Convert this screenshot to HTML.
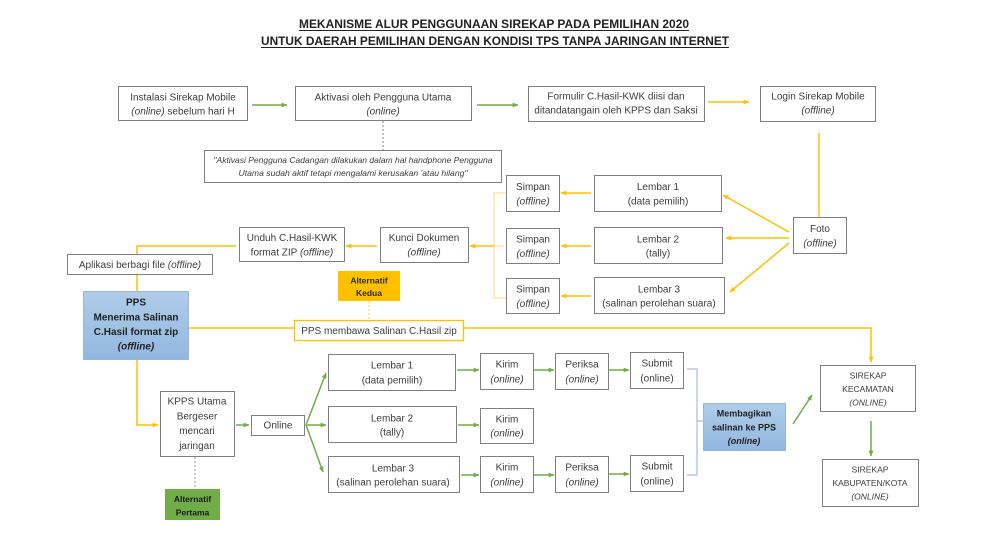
<!DOCTYPE html>
<html>
<head>
<meta charset="utf-8">
<style>
  html,body{margin:0;padding:0;background:#fff;}
  svg{display:block;}
  text{font-family:"Liberation Sans",sans-serif;fill:#3d3d3d;font-size:10px;}
  .it{font-style:italic;}
  .b{font-weight:bold;}
  .box{fill:#fff;stroke:#7f7f7f;stroke-width:1;}
  .gl{stroke:#70ad47;stroke-width:1.5;fill:none;}
  .yl{stroke:#ffc000;stroke-width:1.5;fill:none;}
</style>
</head>
<body>
<svg width="1000" height="540" viewBox="0 0 1000 540" xmlns="http://www.w3.org/2000/svg">
  <defs>
    <marker id="ay" viewBox="0 0 10 10" refX="9" refY="5" markerWidth="6" markerHeight="6" markerUnits="userSpaceOnUse" orient="auto">
      <path d="M0,1 L10,5 L0,9 z" fill="#ffc000"/>
    </marker>
    <marker id="ag" viewBox="0 0 10 10" refX="9" refY="5" markerWidth="6" markerHeight="6" markerUnits="userSpaceOnUse" orient="auto">
      <path d="M0,1 L10,5 L0,9 z" fill="#70ad47"/>
    </marker>
    <linearGradient id="blue" x1="0" y1="0" x2="0" y2="1">
      <stop offset="0" stop-color="#b0cdea"/>
      <stop offset="1" stop-color="#92b7df"/>
    </linearGradient>
  </defs>

  <!-- Title -->
  <text x="494" y="28" text-anchor="middle" class="b" style="font-size:11.5px;fill:#222" textLength="390" lengthAdjust="spacingAndGlyphs">MEKANISME ALUR PENGGUNAAN SIREKAP PADA PEMILIHAN 2020</text>
  <line x1="299" y1="30.5" x2="689" y2="30.5" stroke="#222" stroke-width="1"/>
  <text x="495" y="45" text-anchor="middle" class="b" style="font-size:11.5px;fill:#222" textLength="468" lengthAdjust="spacingAndGlyphs">UNTUK DAERAH PEMILIHAN DENGAN KONDISI TPS TANPA JARINGAN INTERNET</text>
  <line x1="261" y1="47.5" x2="729" y2="47.5" stroke="#222" stroke-width="1"/>

  <!-- ===== Connectors ===== -->
  <!-- row 1 -->
  <line class="gl" x1="252" y1="105" x2="287" y2="105" marker-end="url(#ag)"/>
  <line class="gl" x1="477" y1="105" x2="518" y2="105" marker-end="url(#ag)"/>
  <line class="yl" x1="708" y1="102" x2="749" y2="102" marker-end="url(#ay)"/>
  <line class="yl" x1="819" y1="133" x2="819" y2="229" marker-end="url(#ay)"/>
  <!-- dotted from Aktivasi to note -->
  <line x1="383" y1="121" x2="383" y2="150" stroke="#999" stroke-width="1.2" stroke-dasharray="2,2"/>

  <!-- Foto fan -->
  <line class="yl" x1="789" y1="232" x2="723" y2="195" marker-end="url(#ay)"/>
  <line class="yl" x1="789" y1="238" x2="726" y2="238" marker-end="url(#ay)"/>
  <line class="yl" x1="789" y1="243" x2="730" y2="292" marker-end="url(#ay)"/>

  <!-- Lembar -> Simpan -->
  <line class="yl" x1="591" y1="193" x2="561" y2="193" marker-end="url(#ay)"/>
  <line class="yl" x1="591" y1="246" x2="561" y2="246" marker-end="url(#ay)"/>
  <line class="yl" x1="591" y1="296" x2="561" y2="296" marker-end="url(#ay)"/>

  <!-- Simpan bracket -->
  <polyline points="506,193 494,193 494,298 506,298" fill="none" stroke="#ffe08a" stroke-width="1.2"/>
  <line x1="494" y1="246" x2="504" y2="246" stroke="#ffe08a" stroke-width="1.2"/>
  <line class="yl" x1="494" y1="246" x2="470" y2="246" marker-end="url(#ay)"/>

  <!-- Kunci -> Unduh -->
  <line class="yl" x1="377" y1="246" x2="346" y2="246" marker-end="url(#ay)"/>
  <!-- Unduh -> Aplikasi -> PPS -->
  <polyline class="yl" points="236,246 137,246 137,254"/>
  <line class="yl" x1="137" y1="274" x2="137" y2="291"/>
  <polyline class="yl" points="137,359 137,425 158,425" marker-end="url(#ay)"/>

  <!-- PPS long line -->
  <line class="yl" x1="188" y1="328" x2="294" y2="328"/>
  <polyline class="yl" points="463,328 871,328 871,362" marker-end="url(#ay)"/>
  <line x1="369" y1="301" x2="369" y2="320" stroke="#ffd966" stroke-width="1.2" stroke-dasharray="2,2"/>

  <!-- KPPS dotted to Alternatif Pertama -->
  <line x1="195" y1="457" x2="195" y2="488" stroke="#aaa" stroke-width="1.2" stroke-dasharray="2,2"/>

  <!-- green section -->
  <line class="gl" x1="236" y1="425" x2="249" y2="425" marker-end="url(#ag)"/>
  <line class="gl" x1="306" y1="425" x2="326" y2="373" marker-end="url(#ag)"/>
  <line class="gl" x1="306" y1="425" x2="326" y2="425" marker-end="url(#ag)"/>
  <line class="gl" x1="306" y1="425" x2="323" y2="472" marker-end="url(#ag)"/>

  <line class="gl" x1="457" y1="370" x2="479" y2="370" marker-end="url(#ag)"/>
  <line class="gl" x1="458" y1="425" x2="479" y2="425" marker-end="url(#ag)"/>
  <line class="gl" x1="461" y1="475" x2="479" y2="475" marker-end="url(#ag)"/>

  <line class="gl" x1="534" y1="370" x2="554" y2="370" marker-end="url(#ag)"/>
  <line class="gl" x1="609" y1="370" x2="629" y2="370" marker-end="url(#ag)"/>
  <line class="gl" x1="534" y1="475" x2="554" y2="475" marker-end="url(#ag)"/>
  <line class="gl" x1="609" y1="474" x2="629" y2="474" marker-end="url(#ag)"/>

  <!-- blue bracket -->
  <polyline points="687,369 697,369 697,475 687,475" fill="none" stroke="#a9bcd9" stroke-width="1.2"/>
  <line x1="697" y1="421" x2="703" y2="421" stroke="#a9bcd9" stroke-width="1.2"/>

  <line class="gl" x1="793" y1="424" x2="812" y2="395" marker-end="url(#ag)"/>
  <line class="gl" x1="871" y1="421" x2="871" y2="456" marker-end="url(#ag)"/>

  <!-- ===== Boxes ===== -->
  <!-- Instalasi -->
  <rect class="box" x="118.5" y="86.5" width="129" height="34"/>
  <text x="183" y="100.5" text-anchor="middle">Instalasi Sirekap Mobile</text>
  <text x="183" y="114.5" text-anchor="middle"><tspan class="it">(online)</tspan> sebelum hari H</text>

  <!-- Aktivasi -->
  <rect class="box" x="295.5" y="86.5" width="176" height="34"/>
  <text x="383" y="100.5" text-anchor="middle">Aktivasi oleh Pengguna Utama</text>
  <text x="383" y="114.5" text-anchor="middle" class="it">(online)</text>

  <!-- Note -->
  <rect class="box" x="204.5" y="150.5" width="297" height="32"/>
  <text x="353" y="163" text-anchor="middle" class="it" style="font-size:8.3px" textLength="279" lengthAdjust="spacingAndGlyphs">"Aktivasi Pengguna Cadangan dilakukan dalam hal handphone Pengguna</text>
  <text x="353" y="176" text-anchor="middle" class="it" style="font-size:8.3px" textLength="229" lengthAdjust="spacingAndGlyphs">Utama sudah aktif tetapi mengalami kerusakan 'atau hilang"</text>

  <!-- Formulir -->
  <rect class="box" x="528.5" y="86.5" width="176" height="35"/>
  <text x="616" y="99.5" text-anchor="middle">Formulir C.Hasil-KWK diisi dan</text>
  <text x="616" y="113.5" text-anchor="middle">ditandatangain oleh KPPS dan Saksi</text>

  <!-- Login -->
  <rect class="box" x="760.5" y="86.5" width="115" height="35"/>
  <text x="818" y="99.5" text-anchor="middle">Login Sirekap Mobile</text>
  <text x="818" y="113.5" text-anchor="middle" class="it">(offline)</text>

  <!-- Lembar 1/2/3 (yellow section) -->
  <rect class="box" x="594.5" y="175.5" width="127" height="36"/>
  <text x="658" y="190" text-anchor="middle">Lembar 1</text>
  <text x="658" y="204.5" text-anchor="middle">(data pemilih)</text>

  <rect class="box" x="594.5" y="227.5" width="128" height="36"/>
  <text x="658" y="242.5" text-anchor="middle">Lembar 2</text>
  <text x="658" y="256.5" text-anchor="middle">(tally)</text>

  <rect class="box" x="594.5" y="277.5" width="130" height="36"/>
  <text x="659" y="292.5" text-anchor="middle">Lembar 3</text>
  <text x="659" y="306.5" text-anchor="middle">(salinan perolehan suara)</text>

  <!-- Simpan -->
  <rect class="box" x="506.5" y="175.5" width="53" height="36"/>
  <text x="533" y="190" text-anchor="middle">Simpan</text>
  <text x="533" y="204.5" text-anchor="middle" class="it">(offline)</text>

  <rect class="box" x="506.5" y="228.5" width="53" height="35"/>
  <text x="533" y="242.5" text-anchor="middle">Simpan</text>
  <text x="533" y="257" text-anchor="middle" class="it">(offline)</text>

  <rect class="box" x="506.5" y="278.5" width="53" height="35"/>
  <text x="533" y="292.5" text-anchor="middle">Simpan</text>
  <text x="533" y="307" text-anchor="middle" class="it">(offline)</text>

  <!-- Foto -->
  <rect class="box" x="793.5" y="217.5" width="53" height="36"/>
  <text x="820" y="232" text-anchor="middle">Foto</text>
  <text x="820" y="246.5" text-anchor="middle" class="it">(offline)</text>

  <!-- Kunci -->
  <rect class="box" x="380.5" y="227.5" width="88" height="35"/>
  <text x="424" y="241" text-anchor="middle">Kunci Dokumen</text>
  <text x="424" y="255.5" text-anchor="middle" class="it">(offline)</text>

  <!-- Unduh -->
  <rect class="box" x="239.5" y="227.5" width="105" height="34"/>
  <text x="292" y="241" text-anchor="middle">Unduh C.Hasil-KWK</text>
  <text x="292" y="255.5" text-anchor="middle">format ZIP <tspan class="it">(offline)</tspan></text>

  <!-- Aplikasi -->
  <rect class="box" x="67.5" y="254.5" width="145" height="20"/>
  <text x="140" y="268" text-anchor="middle">Aplikasi berbagi file <tspan class="it">(offline)</tspan></text>

  <!-- PPS blue -->
  <rect x="83.5" y="291.5" width="105" height="68" fill="url(#blue)" stroke="#9ab8df" stroke-width="1"/>
  <text x="136" y="305.5" text-anchor="middle" class="b" style="fill:#1f1f1f">PPS</text>
  <text x="136" y="320.5" text-anchor="middle" class="b" style="fill:#1f1f1f">Menerima Salinan</text>
  <text x="136" y="335" text-anchor="middle" class="b" style="fill:#1f1f1f">C.Hasil format zip</text>
  <text x="136" y="349.5" text-anchor="middle" class="b it" style="fill:#1f1f1f">(offline)</text>

  <!-- Alternatif Kedua -->
  <rect x="338" y="271" width="62" height="30" fill="#ffc000"/>
  <text x="369" y="283.5" text-anchor="middle" class="b" style="font-size:8.5px;fill:#2a2a2a">Alternatif</text>
  <text x="369" y="296" text-anchor="middle" class="b" style="font-size:8.5px;fill:#2a2a2a">Kedua</text>

  <!-- PPS membawa -->
  <rect x="294.5" y="320.5" width="169" height="20" fill="#fff" stroke="#ffc000" stroke-width="1.3"/>
  <text x="379" y="334" text-anchor="middle">PPS membawa Salinan C.Hasil zip</text>

  <!-- KPPS -->
  <rect class="box" x="160.5" y="391.5" width="74" height="65"/>
  <text x="197" y="404.5" text-anchor="middle">KPPS Utama</text>
  <text x="197" y="419.5" text-anchor="middle">Bergeser</text>
  <text x="197" y="434" text-anchor="middle">mencari</text>
  <text x="197" y="449" text-anchor="middle">jaringan</text>

  <!-- Alternatif Pertama -->
  <rect x="165" y="489" width="55" height="31" fill="#70ad47"/>
  <text x="192.5" y="502" text-anchor="middle" class="b" style="font-size:8.5px;fill:#1a1a1a">Alternatif</text>
  <text x="192.5" y="515.5" text-anchor="middle" class="b" style="font-size:8.5px;fill:#1a1a1a">Pertama</text>

  <!-- Online -->
  <rect class="box" x="251.5" y="415.5" width="53" height="20"/>
  <text x="278" y="428.5" text-anchor="middle">Online</text>

  <!-- Lembar green section -->
  <rect class="box" x="328.5" y="354.5" width="127" height="36"/>
  <text x="392" y="368.5" text-anchor="middle">Lembar 1</text>
  <text x="392" y="383.5" text-anchor="middle">(data pemilih)</text>

  <rect class="box" x="328.5" y="406.5" width="128" height="36"/>
  <text x="392" y="421.5" text-anchor="middle">Lembar 2</text>
  <text x="392" y="435.5" text-anchor="middle">(tally)</text>

  <rect class="box" x="328.5" y="456.5" width="131" height="36"/>
  <text x="393" y="471.5" text-anchor="middle">Lembar 3</text>
  <text x="393" y="485.5" text-anchor="middle">(salinan perolehan suara)</text>

  <!-- Kirim / Periksa / Submit -->
  <rect class="box" x="480.5" y="353.5" width="53" height="36"/>
  <text x="507" y="367.5" text-anchor="middle">Kirim</text>
  <text x="507" y="382.5" text-anchor="middle" class="it">(online)</text>

  <rect class="box" x="555.5" y="353.5" width="53" height="36"/>
  <text x="582" y="367.5" text-anchor="middle">Periksa</text>
  <text x="582" y="382.5" text-anchor="middle" class="it">(online)</text>

  <rect class="box" x="630.5" y="352.5" width="53" height="36"/>
  <text x="657" y="366.5" text-anchor="middle">Submit</text>
  <text x="657" y="381.5" text-anchor="middle">(online)</text>

  <rect class="box" x="480.5" y="408.5" width="53" height="35"/>
  <text x="507" y="422.5" text-anchor="middle">Kirim</text>
  <text x="507" y="436.5" text-anchor="middle" class="it">(online)</text>

  <rect class="box" x="480.5" y="456.5" width="53" height="36"/>
  <text x="507" y="470.5" text-anchor="middle">Kirim</text>
  <text x="507" y="485.5" text-anchor="middle" class="it">(online)</text>

  <rect class="box" x="555.5" y="456.5" width="53" height="36"/>
  <text x="582" y="470.5" text-anchor="middle">Periksa</text>
  <text x="582" y="485.5" text-anchor="middle" class="it">(online)</text>

  <rect class="box" x="630.5" y="455.5" width="53" height="36"/>
  <text x="657" y="469.5" text-anchor="middle">Submit</text>
  <text x="657" y="484.5" text-anchor="middle">(online)</text>

  <!-- Membagikan -->
  <rect x="703.5" y="403.5" width="82" height="47" fill="url(#blue)" stroke="#9ab8df" stroke-width="1"/>
  <text x="744" y="416.5" text-anchor="middle" class="b" style="font-size:9px;fill:#1f1f1f">Membagikan</text>
  <text x="744" y="430.5" text-anchor="middle" class="b" style="font-size:9px;fill:#1f1f1f">salinan ke PPS</text>
  <text x="744" y="444" text-anchor="middle" class="b it" style="font-size:9px;fill:#1f1f1f">(online)</text>

  <!-- SIREKAP KECAMATAN -->
  <rect class="box" x="820.5" y="365.5" width="95" height="46"/>
  <text x="868" y="378.5" text-anchor="middle" style="font-size:8.5px">SIREKAP</text>
  <text x="868" y="392" text-anchor="middle" style="font-size:8.5px">KECAMATAN</text>
  <text x="868" y="405.5" text-anchor="middle" class="it" style="font-size:8.5px">(ONLINE)</text>

  <!-- SIREKAP KABUPATEN -->
  <rect class="box" x="822.5" y="459.5" width="96" height="47"/>
  <text x="870" y="472.5" text-anchor="middle" style="font-size:8.5px">SIREKAP</text>
  <text x="870" y="486" text-anchor="middle" style="font-size:8.5px">KABUPATEN/KOTA</text>
  <text x="870" y="499.5" text-anchor="middle" class="it" style="font-size:8.5px">(ONLINE)</text>
</svg>
</body>
</html>
